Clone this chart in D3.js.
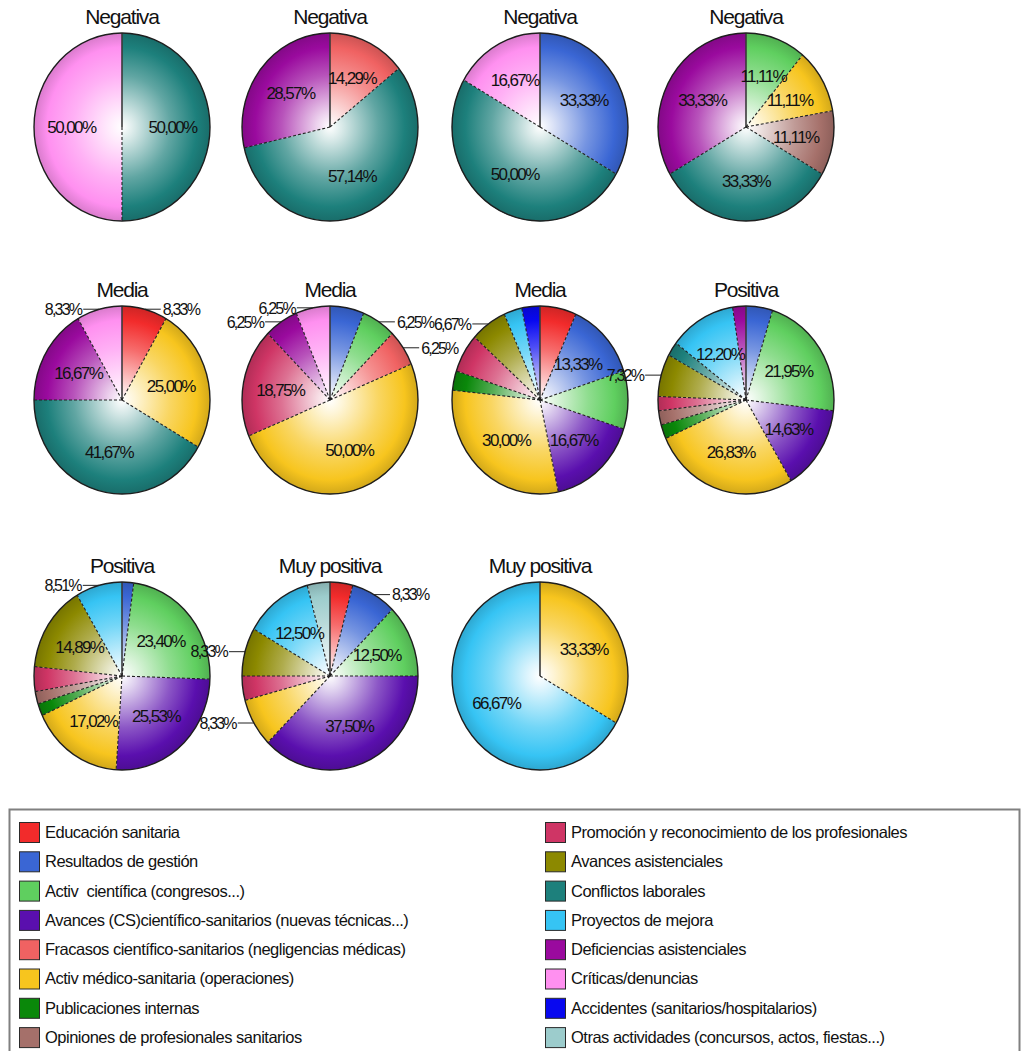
<!DOCTYPE html>
<html>
<head>
<meta charset="utf-8">
<script src="https://cdn.jsdelivr.net/npm/d3@7"></script>
<style>
  body { margin: 0; background: #fff; }
  svg { display: block; font-family: Arial, "Liberation Sans", sans-serif; }
</style>
</head>
<body>
<svg id="chart" width="1029" height="1051"></svg>
<script>
// Categories of news items, in legend order (left column, then right column)
const categories = [
  "Educación sanitaria",
  "Resultados de gestión",
  "Activ  científica (congresos...)",
  "Avances (CS)científico-sanitarios (nuevas técnicas...)",
  "Fracasos científico-sanitarios (negligencias médicas)",
  "Activ médico-sanitaria (operaciones)",
  "Publicaciones internas",
  "Opiniones de profesionales sanitarios",
  "Promoción y reconocimiento de los profesionales",
  "Avances asistenciales",
  "Conflictos laborales",
  "Proyectos de mejora",
  "Deficiencias asistenciales",
  "Críticas/denuncias",
  "Accidentes (sanitarios/hospitalarios)",
  "Otras actividades (concursos, actos, fiestas...)"
];
const colors = [
  "#f22b2b", "#3a66d4", "#5fcf5f", "#5a0fae",
  "#f06262", "#f7c51e", "#0a880a", "#a5706a",
  "#cf3565", "#8c8900", "#1d807c", "#36c4f4",
  "#9a0a9e", "#ff90f0", "#0808f0", "#9ccccc"
];

const titles = ["Negativa", "Negativa", "Negativa", "Negativa",
                "Media", "Media", "Media", "Positiva",
                "Positiva", "Muy positiva", "Muy positiva"];

// Share of each category (%) in every pie, category order
const negativa1   = [0, 0, 0, 0, 0, 0, 0, 0, 0, 0, 50.00, 0, 0, 50.00, 0, 0];
const negativa2   = [0, 0, 0, 0, 14.29, 0, 0, 0, 0, 0, 57.14, 0, 28.57, 0, 0, 0];
const negativa3   = [0, 33.33, 0, 0, 0, 0, 0, 0, 0, 0, 50.00, 0, 0, 16.67, 0, 0];
const negativa4   = [0, 0, 11.11, 0, 0, 11.11, 0, 11.11, 0, 0, 33.33, 0, 33.33, 0, 0, 0];
const media1      = [8.33, 0, 0, 0, 0, 25.00, 0, 0, 0, 0, 41.67, 0, 16.67, 8.33, 0, 0];
const media2      = [0, 6.25, 6.25, 0, 6.25, 50.00, 0, 0, 18.75, 0, 0, 0, 6.25, 6.25, 0, 0];
const media3      = [6.67, 13.33, 10.00, 16.67, 0, 30.00, 3.33, 0, 6.67, 6.67, 0, 3.33, 0, 0, 3.33, 0];
const positiva1   = [0, 4.88, 21.95, 14.63, 0, 26.83, 2.44, 2.44, 2.44, 7.32, 2.44, 12.20, 2.44, 0, 0, 0];
const positiva2   = [0, 2.13, 23.40, 25.53, 0, 17.02, 2.13, 2.13, 4.26, 14.89, 0, 8.51, 0, 0, 0, 0];
const muyPositiva1 = [4.17, 8.33, 12.50, 37.50, 0, 8.33, 0, 0, 4.17, 8.33, 0, 12.50, 0, 0, 0, 4.17];
const muyPositiva2 = [0, 0, 0, 0, 0, 33.33, 0, 0, 0, 0, 0, 66.67, 0, 0, 0, 0];

const pieValues = [negativa1, negativa2, negativa3, negativa4,
                   media1, media2, media3, positiva1,
                   positiva2, muyPositiva1, muyPositiva2];

// Which slices carry their percentage inside the slice, and which outside with a leader
const insideLabels = [
  [10, 13], [4, 10, 12], [1, 10, 13], [2, 5, 7, 10, 12],
  [5, 10, 12], [5, 8], [1, 3, 5], [2, 3, 5, 11],
  [2, 3, 5, 9], [2, 3, 11], [5, 11]
];
const outsideLabels = [
  [], [], [], [],
  [0, 13], [2, 4, 12, 13], [9], [9],
  [11], [1, 5, 9], []
];

// ---- layout ----
const R = 88;            // pie radius
const SY = 1.068;        // vertical stretch of the pies
const colX = [122, 330, 540, 746];
const rowY = [127, 400, 676];
const titleOffset = 103;

const svg = d3.select("#chart");
const defs = svg.append("defs");

// Radial shading: white centre fading into the category colour, darker rim
colors.forEach((c, i) => {
  const mix = d3.interpolateRgb("#ffffff", c);
  const g = defs.append("radialGradient")
    .attr("id", "grad" + i)
    .attr("gradientUnits", "userSpaceOnUse")
    .attr("cx", 0).attr("cy", 0).attr("r", R)
    .attr("fx", 0).attr("fy", 0);
  g.append("stop").attr("offset", 0).attr("stop-color", "#ffffff");
  g.append("stop").attr("offset", 0.15).attr("stop-color", mix(0.18));
  g.append("stop").attr("offset", 0.55).attr("stop-color", mix(0.7));
  g.append("stop").attr("offset", 0.85).attr("stop-color", c);
  g.append("stop").attr("offset", 1).attr("stop-color", d3.color(c).darker(0.45));
});

const fmt = v => v.toFixed(2).replace(".", ",") + "%";

const pie = d3.pie().sort(null).value(d => d.v);
const arc = d3.arc().innerRadius(0).outerRadius(R);
const labelArc = d3.arc().innerRadius(R * 0.15).outerRadius(R);

pieValues.forEach((vals, p) => {
  const cx = colX[p % 4];
  const cy = rowY[Math.floor(p / 4)];
  const data = vals.map((v, i) => ({ v, i })).filter(d => d.v > 0);
  const arcs = pie(data);

  const root = svg.append("g").attr("class", "pie-chart");

  root.append("text")
    .attr("x", cx).attr("y", cy - titleOffset)
    .attr("text-anchor", "middle")
    .attr("font-size", 21)
    .attr("letter-spacing", -1.2)
    .attr("fill", "#111")
    .text(titles[p]);

  const g = root.append("g")
    .attr("transform", `translate(${cx},${cy}) scale(1,${SY})`);

  g.selectAll("path.slice")
    .data(arcs)
    .join("path")
    .attr("class", "slice")
    .attr("d", arc)
    .attr("fill", d => `url(#grad${d.data.i})`);

  // separators between slices
  g.selectAll("line.sep")
    .data(arcs)
    .join("line")
    .attr("class", "sep")
    .attr("x1", 0).attr("y1", 0)
    .attr("x2", d => R * Math.sin(d.startAngle))
    .attr("y2", d => -R * Math.cos(d.startAngle))
    .attr("stroke", (d, k) => k === 0 ? "#3a3a3a" : "#222")
    .attr("stroke-width", (d, k) => k === 0 ? 1.6 : 1.1)
    .attr("stroke-dasharray", (d, k) => k === 0 ? null : "3,2")
    .attr("vector-effect", "non-scaling-stroke")
    .attr("display", arcs.length > 1 ? null : "none");

  g.append("circle")
    .attr("r", R)
    .attr("fill", "none")
    .attr("stroke", "#1e1e1e")
    .attr("stroke-width", 1.4)
    .attr("vector-effect", "non-scaling-stroke");

  const labels = root.append("g")
    .attr("font-size", 17)
    .attr("letter-spacing", -1.6)
    .attr("fill", "#111");

  // labels inside the slices
  arcs.filter(d => insideLabels[p].includes(d.data.i)).forEach(d => {
    const [x, y] = labelArc.centroid(d);
    labels.append("text")
      .attr("x", cx + x)
      .attr("y", cy + y * SY)
      .attr("dy", "0.36em")
      .attr("text-anchor", "middle")
      .text(fmt(d.data.v));
  });

  // labels outside the pie, joined by a short horizontal leader
  arcs.filter(d => outsideLabels[p].includes(d.data.i)).forEach(d => {
    const a = (d.startAngle + d.endAngle) / 2;
    const px = cx + R * Math.sin(a);
    const py = cy - R * Math.cos(a) * SY;
    const side = Math.sin(a) >= 0 ? 1 : -1;
    labels.append("line")
      .attr("x1", px).attr("y1", py)
      .attr("x2", px + side * 16).attr("y2", py)
      .attr("stroke", "#222").attr("stroke-width", 1);
    labels.append("text")
      .attr("x", px + side * 18)
      .attr("y", py)
      .attr("dy", "0.36em")
      .attr("text-anchor", side > 0 ? "start" : "end")
      .attr("font-size", 16)
      .attr("letter-spacing", -1.8)
      .text(fmt(d.data.v));
  });
});

// ---- legend ----
const legend = svg.append("g").attr("class", "legend");
legend.append("rect")
  .attr("x", 9.5).attr("y", 809.5)
  .attr("width", 1010).attr("height", 260)
  .attr("fill", "#fff")
  .attr("stroke", "#808080")
  .attr("stroke-width", 2);

const legendRows = 8;
const rowStep = 29.3;
const items = legend.selectAll("g.item")
  .data(categories)
  .join("g")
  .attr("class", "item")
  .attr("transform", (d, i) => {
    const col = Math.floor(i / legendRows);
    const row = i % legendRows;
    return `translate(${col === 0 ? 19 : 545},${832 + row * rowStep})`;
  });

items.append("rect")
  .attr("x", 0.5).attr("y", -9.5)
  .attr("width", 20).attr("height", 20)
  .attr("fill", (d, i) => colors[i])
  .attr("stroke", "#2a2a2a")
  .attr("stroke-width", 1);

items.append("text")
  .attr("x", 26)
  .attr("y", 0)
  .attr("dy", "0.36em")
  .attr("font-size", 16.5)
  .attr("letter-spacing", -0.5)
  .attr("fill", "#111")
  .attr("xml:space", "preserve")
  .style("white-space", "pre")
  .text(d => d);
</script>
</body>
</html>
